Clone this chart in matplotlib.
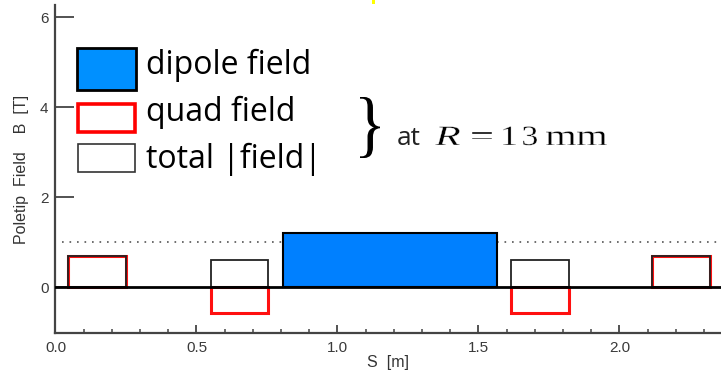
import numpy as np
import matplotlib.pyplot as plt
from matplotlib.patches import PathPatch, Rectangle
from matplotlib.textpath import TextPath
from matplotlib.font_manager import FontProperties
from matplotlib.transforms import Affine2D
from matplotlib.ticker import MultipleLocator

# magnet layout along s [m]
quad_start = [0.045, 0.55, 1.615, 2.115]
quad_len = 0.205
quad_field = [0.69, -0.58, -0.58, 0.69]
total_field = [0.69, 0.6, 0.6, 0.69]

dipole_start = [0.805]
dipole_len = 0.76
dipole_field = [1.2]

ref_level = 1.0

legend_labels = ['dipole field', 'quad field', 'total |field|']

W, H = 721, 377
fig = plt.figure(figsize=(W / 100, H / 100), dpi=100)
ax = fig.add_axes([55.5 / W, 44 / H, 1 - 55.5 / W, 328 / H])

axis_col = '#444444'
blue = '#0080ff'

ax.axhline(ref_level, xmin=0.01, color='#555555', lw=1.2, ls=(0, (1, 3.5)), zorder=1)

ax.bar(dipole_start, dipole_field, width=dipole_len, align='edge',
       color=blue, edgecolor='black', lw=1.5, zorder=3)
ax.bar(quad_start, quad_field, width=quad_len, align='edge', fill=False,
       edgecolor='#ff1010', lw=2.2, zorder=3)
ax.bar(quad_start, total_field, width=quad_len, align='edge', fill=False,
       edgecolor='#222222', lw=1.3, zorder=4)

ax.axhline(0, color='black', lw=2, zorder=5)

ax.set_xlim(0, 2.36)
ax.set_ylim(-1.02, 6.27)
ax.xaxis.set_major_locator(MultipleLocator(0.5))
ax.xaxis.set_minor_locator(MultipleLocator(0.1))
ax.yaxis.set_major_locator(MultipleLocator(2))
ax.xaxis.set_major_formatter(plt.FormatStrFormatter('%.1f'))

for s in ['top', 'right']:
    ax.spines[s].set_visible(False)
for s in ['left', 'bottom']:
    ax.spines[s].set_color(axis_col)
    ax.spines[s].set_linewidth(1.6)

ax.tick_params(axis='x', which='major', direction='in', length=6, width=1.3,
               color=axis_col, labelsize=11, labelcolor='#3a3a3a', pad=6)
ax.tick_params(axis='x', which='minor', direction='in', length=3, width=1.1,
               color=axis_col)
ax.tick_params(axis='y', which='major', direction='in', length=14, width=1.3,
               color=axis_col, labelsize=11, labelcolor='#3a3a3a', pad=5)
for lab in ax.get_xticklabels() + ax.get_yticklabels():
    lab.set_family('Liberation Sans')

ax.set_xlabel('S  [m]', fontsize=11.5, color='#333333', family='Liberation Sans', labelpad=0)
ax.set_ylabel('Poletip  Field    B  [T]', fontsize=11.5, color='#333333',
              family='Liberation Sans', labelpad=8)


def fx(x):
    return x / W


def fy(y):  # pixel row from the top -> figure fraction
    return (H - y) / H


# legend, laid out by hand (the dipole key box is taller than the others)
key_boxes = [(77, 48, 59, 42), (78, 104, 57, 28), (78, 144, 57, 28)]
key_styles = [dict(facecolor='#0090ff', edgecolor='black', lw=2),
              dict(facecolor='white', edgecolor='#ff0000', lw=2.6),
              dict(facecolor='white', edgecolor='#333333', lw=1.2)]
key_base = [74, 121, 168]
for (x, y, w, h), st, lab, b in zip(key_boxes, key_styles, legend_labels, key_base):
    fig.patches.append(Rectangle((fx(x), fy(y + h)), w / W, h / H,
                                 transform=fig.transFigure, **st))
    fig.text(fx(146), fy(b), lab, fontsize=23, family='Open Sans', va='baseline')


# annotation: brace + "at R = 13 mm" (wide equation-editor serif)
def glyph(s, x, base, w, em, prop):
    tp = TextPath((0, 0), s, size=50, prop=prop)
    ext = tp.get_extents()
    sx = w / ext.width
    sy = em / 50
    tr = (Affine2D().translate(-ext.x0, 0).scale(sx / W, sy / H)
          .translate(fx(x), fy(base)) + fig.transFigure)
    fig.patches.append(PathPatch(tp, transform=tr, facecolor='black',
                                 edgecolor='white', lw=0.3))


serif = FontProperties(family='Liberation Serif')
serif_it = FontProperties(family='Liberation Serif', style='italic')

tp = TextPath((0, 0), '}', size=50, prop=serif)
ext = tp.get_extents()
tr = (Affine2D().translate(-ext.x0, -ext.y0)
      .scale(20 / ext.width / W, 61 / ext.height / H)
      .translate(fx(360), fy(158)) + fig.transFigure)
fig.patches.append(PathPatch(tp, transform=tr, facecolor='black', edgecolor='none'))

fig.text(fx(397), fy(145), 'at', fontsize=19, family='Open Sans', va='baseline',
         color='#222222')
glyph('R', 435, 145, 25, 28, serif_it)
glyph('=', 472, 145, 20, 28, serif)
glyph('1', 503, 145, 13, 28, serif)
glyph('3', 523, 145, 14, 28, serif)
glyph('m', 546, 145, 30, 29, serif)
glyph('m', 577, 145, 30, 29, serif)

# small yellow speck at the top edge of the original image
fig.patches.append(Rectangle((fx(372), fy(4)), 3 / W, 4 / H,
                             transform=fig.transFigure, facecolor='#ffff00',
                             edgecolor='none'))

fig.savefig('out.png', dpi=100)
